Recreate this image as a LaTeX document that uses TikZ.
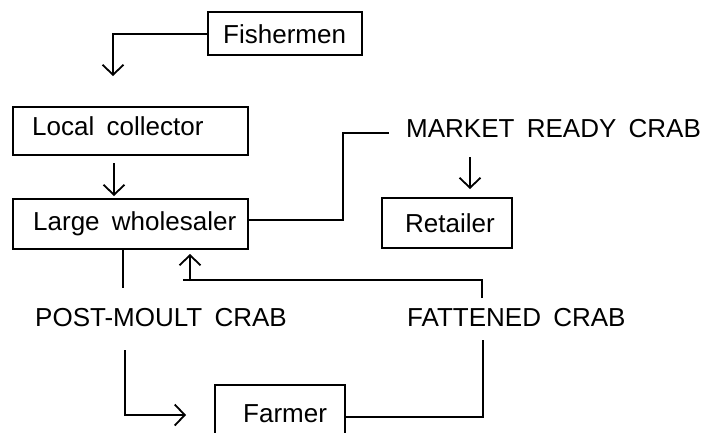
\documentclass[tikz,border=0pt]{standalone}
\usepackage{fontspec}
\setmainfont{Liberation Sans}[WordSpace=1.7]
\usetikzlibrary{arrows.meta}
\begin{document}
\begin{tikzpicture}[x=1bp,y=-1bp,
  box/.style={draw=black, line width=2.3bp, inner sep=0pt},
  lbl/.style={anchor=base west, inner sep=0pt, font=\fontsize{26bp}{30bp}\selectfont},
  conn/.style={draw=black, line width=1.8bp},
  arr/.style={conn, -{Straight Barb[length=10bp,width=21bp,line width=1.8bp]}}
]
\useasboundingbox (0,0) rectangle (702,432);
\clip (0,0) rectangle (702,432);
% boxes
\node[box, minimum width=154bp, minimum height=43bp] (fish) at (285,33.5) {};
\node[box, minimum width=235bp, minimum height=48bp] (lc) at (130.5,131) {};
\node[box, minimum width=235bp, minimum height=50bp] (lw) at (130.5,224) {};
\node[box, minimum width=130bp, minimum height=50bp] (ret) at (447,223) {};
\node[box, minimum width=130bp, minimum height=60bp] (farm) at (280,415) {};
% texts
\node[lbl] (tfish) at (223,43) {Fishermen};
\node[lbl] (tlc) at (32,135) {Local collector};
\node[lbl] (tlw) at (33,230) {Large wholesaler};
\node[lbl] (tret) at (405,232) {Retailer};
\node[lbl] (tfarm) at (243,422) {Farmer};
\node[lbl] (mrc) at (406,137) {MARKET READY CRAB};
\node[lbl] (pmc) at (35,326) {POST-MOULT CRAB};
\node[lbl] (fc) at (407,326) {FATTENED CRAB};
% coordinates
\coordinate (a1) at (113,76);
\coordinate (a2s) at (114,163);
\coordinate (a2e) at (114,196);
\coordinate (m1) at (389,133);
\coordinate (a3s) at (470,157);
\coordinate (a3e) at (470,189);
\coordinate (p1) at (123,288);
\coordinate (p2) at (125,350);
\coordinate (p3) at (186,415);
\coordinate (f1) at (483,340);
\coordinate (f2) at (482,298);
\coordinate (f3) at (183,280);
\coordinate (a4s) at (190,281);
\coordinate (a4e) at (190,254);
% connectors
\draw[arr] (fish.west |- 0,34) -| (a1);
\draw[arr] (a2s) -- (a2e);
\draw[conn] (lw.east |- 0,220) -- (343,220) |- (m1);
\draw[arr] (a3s) -- (a3e);
\draw[conn] (lw.south -| p1) -- (p1);
\draw[arr] (p2) |- (p3);
\draw[conn] (farm.east |- 0,417) -| (f1);
\draw[conn, line width=2.4bp] (f2) |- (f3);
\draw[arr] (a4s) -- (a4e);
\end{tikzpicture}
\end{document}
